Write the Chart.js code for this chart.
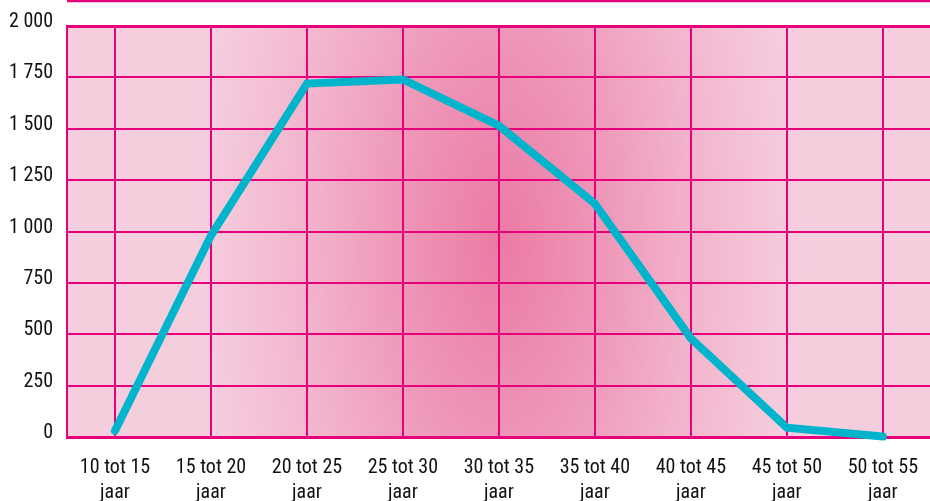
<!DOCTYPE html>
<html>
<head>
<meta charset="utf-8">
<script src="https://cdn.jsdelivr.net/npm/chart.js@4"></script>
<style>
html,body{margin:0;padding:0;background:#fff;overflow:hidden;}
#wrap{width:936px;height:501px;position:relative;}
</style>
</head>
<body>
<div id="wrap"><canvas id="c" width="936" height="501"></canvas></div>
<script>
const categories = [
  ["10 tot 15","jaar"],["15 tot 20","jaar"],["20 tot 25","jaar"],["25 tot 30","jaar"],
  ["30 tot 35","jaar"],["35 tot 40","jaar"],["40 tot 45","jaar"],["45 tot 50","jaar"],["50 tot 55","jaar"]
];
const values = [30, 980, 1720, 1740, 1515, 1135, 480, 45, 2];
const yTicks = [0, 250, 500, 750, 1000, 1250, 1500, 1750, 2000];

const MAGENTA = '#E6007E';
const FONT = "'Roboto Condensed', 'Liberation Sans Narrow', sans-serif";

const bgPlugin = {
  id: 'bg',
  beforeDraw(chart) {
    const {ctx, chartArea: a} = chart;
    ctx.save();
    ctx.fillStyle = '#F5CEDE';
    ctx.fillRect(a.left, a.top, a.right - a.left, a.bottom - a.top);
    const cx = 500, cy = 240, rx = 310, ry = 650;
    ctx.beginPath();
    ctx.rect(a.left, a.top, a.right - a.left, a.bottom - a.top);
    ctx.clip();
    ctx.translate(cx, cy);
    ctx.scale(1, ry / rx);
    const g = ctx.createRadialGradient(0, 0, 0, 0, 0, rx);
    g.addColorStop(0, '#EB7AA5');
    g.addColorStop(0.31, '#EE95B8');
    g.addColorStop(0.62, '#F2B3CB');
    g.addColorStop(0.94, '#F5CCDD');
    g.addColorStop(1, '#F5CEDE');
    ctx.fillStyle = g;
    ctx.fillRect(-rx * 3, -rx * 3, rx * 6, rx * 6);
    ctx.restore();
    // top rule
    ctx.save();
    ctx.strokeStyle = MAGENTA;
    ctx.lineWidth = 2.5;
    ctx.beginPath();
    ctx.moveTo(a.left, 1);
    ctx.lineTo(chart.width, 1);
    ctx.stroke();
    ctx.restore();
  }
};

new Chart(document.getElementById('c'), {
  type: 'line',
  data: {
    labels: categories,
    datasets: [{
      data: values,
      borderColor: '#00B4CC',
      borderWidth: 8,
      borderCapStyle: 'round',
      borderJoinStyle: 'miter',
      pointRadius: 0,
      tension: 0,
      fill: false,
      clip: false
    }]
  },
  options: {
    responsive: false,
    animation: false,
    layout: {padding: {top: 24, right: 0, left: 0, bottom: 0}},
    plugins: {legend: {display: false}, tooltip: {enabled: false}},
    scales: {
      x: {
        offset: true,
        grid: {color: MAGENTA, lineWidth: 2, drawTicks: false, offset: false},
        border: {display: true, color: MAGENTA, width: 3},
        ticks: {
          color: '#111',
          font: {family: FONT, size: 20, lineHeight: 1.25},
          padding: 18,
          maxRotation: 0,
          autoSkip: false
        },
        afterFit(s) { s.height = 64; }
      },
      y: {
        min: 0, max: 2000,
        afterBuildTicks(s) { s.ticks = yTicks.map(v => ({value: v})); },
        grid: {color: MAGENTA, lineWidth: (c) => c.tick && c.tick.value === 2000 ? 3 : 2, drawTicks: false},
        border: {display: true, color: MAGENTA, width: 2},
        ticks: {
          color: '#111',
          font: {family: FONT, size: 20},
          padding: 14,
          labelOffset: -4,
          callback(v) { return String(v).replace(/\B(?=(\d{3})+(?!\d))/g, ' '); }
        },
        afterFit(s) { s.width = 67; }
      }
    }
  },
  plugins: [bgPlugin]
});
</script>
</body>
</html>
